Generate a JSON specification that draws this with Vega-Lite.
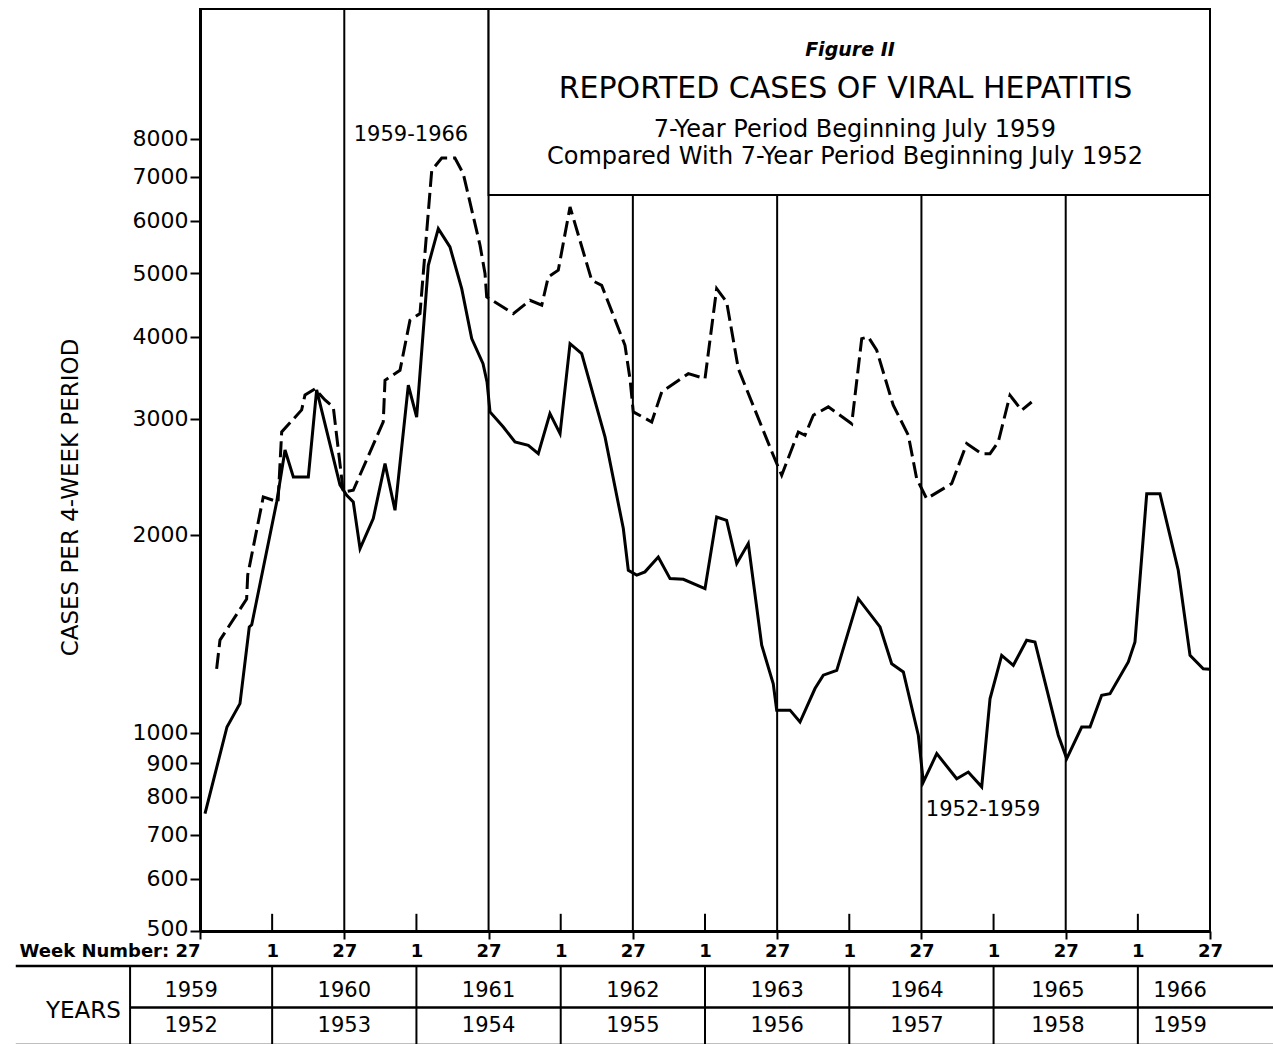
{
  "$schema": "https://vega.github.io/schema/vega-lite/v6.json",
  "background": "white",
  "padding": {"left": 14, "top": 7, "right": 0, "bottom": 0},
  "autosize": {"type": "pad"},
  "spacing": 3,
  "config": {"font": "DejaVu Sans", "view": {"stroke": null}},
  "datasets": {
    "solid": [
      {"t":0.45,"v":754},{"t":2.43,"v":1021},{"t":3.6,"v":1108},{"t":4.44,"v":1449},{"t":4.66,"v":1460},{"t":6.91,"v":2244},{"t":7.66,"v":2692},{"t":8.41,"v":2449},{"t":9.76,"v":2449},{"t":10.51,"v":3321},{"t":12.61,"v":2382},{"t":13.22,"v":2297},{"t":13.81,"v":2244},{"t":14.42,"v":1906},{"t":15.61,"v":2117},{"t":16.67,"v":2566},{"t":17.57,"v":2180},{"t":18.77,"v":3376},{"t":19.52,"v":3020},{"t":20.57,"v":5137},{"t":21.47,"v":5840},{"t":22.52,"v":5478},{"t":23.58,"v":4733},{"t":24.48,"v":3974},{"t":25.5,"v":3640},{"t":25.86,"v":3415},{"t":26.13,"v":3075},{"t":27.33,"v":2917},{"t":28.38,"v":2768},{"t":29.58,"v":2736},{"t":30.48,"v":2657},{"t":31.53,"v":3057},{"t":32.44,"v":2850},{"t":33.34,"v":3905},{"t":34.39,"v":3772},{"t":36.49,"v":2818},{"t":38.14,"v":2045},{"t":38.59,"v":1767},{"t":39.35,"v":1737},{"t":40.09,"v":1757},{"t":41.29,"v":1851},{"t":42.35,"v":1716},{"t":43.55,"v":1712},{"t":45.5,"v":1657},{"t":46.55,"v":2129},{"t":47.45,"v":2104},{"t":48.36,"v":1809},{"t":49.4,"v":1940},{"t":50.61,"v":1359},{"t":51.65,"v":1188},{"t":51.96,"v":1083},{"t":53.16,"v":1083},{"t":54.06,"v":1039},{"t":55.41,"v":1168},{"t":56.16,"v":1224},{"t":57.37,"v":1245},{"t":59.31,"v":1600},{"t":61.27,"v":1449},{"t":62.32,"v":1274},{"t":63.37,"v":1238},{"t":64.72,"v":992},{"t":65.17,"v":842},{"t":66.38,"v":930},{"t":68.18,"v":852},{"t":69.22,"v":872},{"t":70.43,"v":828},{"t":71.18,"v":1127},{"t":72.23,"v":1312},{"t":73.28,"v":1267},{"t":74.48,"v":1383},{"t":75.23,"v":1375},{"t":77.33,"v":992},{"t":78.09,"v":914},{"t":79.44,"v":1021},{"t":80.19,"v":1021},{"t":81.24,"v":1141},{"t":81.99,"v":1147},{"t":83.64,"v":1282},{"t":84.24,"v":1375},{"t":85.3,"v":2310},{"t":86.49,"v":2310},{"t":88.14,"v":1767},{"t":89.2,"v":1312},{"t":90.39,"v":1252},{"t":91,"v":1250}
    ],
    "dashed": [
      {"t":1.5,"v":1251},{"t":1.8,"v":1384},{"t":4.2,"v":1598},{"t":4.3,"v":1738},{"t":5.7,"v":2284},{"t":7.03,"v":2244},{"t":7.36,"v":2867},{"t":9.16,"v":3097},{"t":9.46,"v":3264},{"t":10.36,"v":3334},{"t":11.26,"v":3207},{"t":12.01,"v":3126},{"t":12.91,"v":2324},{"t":13.81,"v":2338},{"t":16.51,"v":2969},{"t":16.67,"v":3436},{"t":18.02,"v":3558},{"t":18.92,"v":4239},{"t":19.82,"v":4338},{"t":20.88,"v":7164},{"t":21.78,"v":7478},{"t":22.97,"v":7478},{"t":23.72,"v":7079},{"t":25.23,"v":5510},{"t":25.68,"v":4990},{"t":25.83,"v":4598},{"t":28.23,"v":4338},{"t":29.73,"v":4545},{"t":30.79,"v":4467},{"t":31.38,"v":4932},{"t":32.28,"v":5050},{"t":33.34,"v":6301},{"t":35.29,"v":4875},{"t":36.19,"v":4789},{"t":38.29,"v":3883},{"t":38.74,"v":3455},{"t":39.04,"v":3075},{"t":40.7,"v":2969},{"t":41.6,"v":3298},{"t":44.0,"v":3516},{"t":45.5,"v":3455},{"t":46.55,"v":4733},{"t":47.45,"v":4519},{"t":48.5,"v":3578},{"t":51.65,"v":2642},{"t":52.41,"v":2464},{"t":53.91,"v":2867},{"t":54.51,"v":2834},{"t":55.26,"v":3040},{"t":56.61,"v":3130},{"t":58.72,"v":2951},{"t":59.62,"v":3974},{"t":60.21,"v":3998},{"t":60.97,"v":3816},{"t":62.46,"v":3148},{"t":63.82,"v":2834},{"t":64.57,"v":2435},{"t":65.47,"v":2270},{"t":67.73,"v":2393},{"t":69.08,"v":2753},{"t":70.43,"v":2657},{"t":71.18,"v":2657},{"t":71.92,"v":2768},{"t":72.98,"v":3260},{"t":74.03,"v":3093},{"t":74.93,"v":3184}
    ],
    "yearLines": [{"t":13},{"t":26},{"t":39},{"t":52},{"t":65},{"t":78}],
    "halfYears": [{"t":6.5},{"t":19.5},{"t":32.5},{"t":45.5},{"t":58.5},{"t":71.5},{"t":84.5}],
    "tableH": [
      {"t":-16.6,"t2":96.7,"row":2},
      {"t":-6.3,"t2":96.7,"row":0.95},
      {"t":-16.6,"t2":96.7,"row":0}
    ],
    "tableV": [{"t":-6.3},{"t":6.5},{"t":19.5},{"t":32.5},{"t":45.5},{"t":58.5},{"t":71.5},{"t":84.5}],
    "years": [
      {"t":-0.8,"row":1.37,"label":"1959"},{"t":13,"row":1.37,"label":"1960"},{"t":26,"row":1.37,"label":"1961"},{"t":39,"row":1.37,"label":"1962"},{"t":52,"row":1.37,"label":"1963"},{"t":64.6,"row":1.37,"label":"1964"},{"t":77.3,"row":1.37,"label":"1965"},{"t":88.3,"row":1.37,"label":"1966"},
      {"t":-0.8,"row":0.48,"label":"1952"},{"t":13,"row":0.48,"label":"1953"},{"t":26,"row":0.48,"label":"1954"},{"t":39,"row":0.48,"label":"1955"},{"t":52,"row":0.48,"label":"1956"},{"t":64.6,"row":0.48,"label":"1957"},{"t":77.3,"row":0.48,"label":"1958"},{"t":88.3,"row":0.48,"label":"1959"}
    ]
  },
  "vconcat": [
    {
      "width": 1010,
      "height": 922,
      "view": {"stroke": "black", "strokeWidth": 2},
      "layer": [
        {
          "data": {"name": "solid"},
          "mark": {"type": "line", "color": "black", "strokeWidth": 3, "strokeJoin": "miter"},
          "encoding": {
            "x": {
              "field": "t", "type": "quantitative",
              "scale": {"domain": [0, 91], "nice": false, "zero": false},
              "axis": {
                "title": null,
                "values": [0, 6.5, 13, 19.5, 26, 32.5, 39, 45.5, 52, 58.5, 65, 71.5, 78, 84.5, 91],
                "labelExpr": "datum.value == 0 ? 'Week Number: 27' : (datum.value % 13 == 0 ? '27' : '1')",
                "labelAlign": {"condition": {"test": "datum.value == 0", "value": "right"}, "value": "center"},
                "labelFontSize": 18,
                "labelFontWeight": "bold",
                "labelColor": "black",
                "labelPadding": 3,
                "labelLimit": 0,
                "labelOverlap": false,
                "labelFlush": false,
                "tickSize": 8,
                "tickWidth": 2,
                "tickColor": "black",
                "tickOpacity": {"condition": {"test": "datum.value % 13 == 0", "value": 1}, "value": 0},
                "domainColor": "black",
                "domainWidth": 3,
                "grid": false
              }
            },
            "y": {
              "field": "v", "type": "quantitative",
              "scale": {"type": "log", "domain": [500, 12596], "nice": false},
              "axis": {
                "title": "CASES PER 4-WEEK PERIOD",
                "titleFontSize": 23,
                "titleFontWeight": "normal",
                "titleColor": "black",
                "titlePadding": 50,
                "titleY": 488,
                "values": [500, 600, 700, 800, 900, 1000, 2000, 3000, 4000, 5000, 6000, 7000, 8000],
                "format": "d",
                "labelFontSize": 22,
                "labelColor": "black",
                "labelPadding": 2,
                "labelOffset": {"condition": {"test": "datum.value == 500", "value": -3}, "value": 0},
                "tickSize": 10,
                "tickWidth": 2,
                "tickColor": "black",
                "domainColor": "black",
                "domainWidth": 3,
                "grid": false
              }
            }
          }
        },
        {
          "data": {"name": "dashed"},
          "mark": {"type": "line", "color": "black", "strokeWidth": 3, "strokeDash": [16, 6]},
          "encoding": {
            "x": {"field": "t", "type": "quantitative"},
            "y": {"field": "v", "type": "quantitative"}
          }
        },
        {
          "data": {"name": "yearLines"},
          "mark": {"type": "rule", "color": "black", "strokeWidth": 2},
          "encoding": {
            "x": {"field": "t", "type": "quantitative"},
            "y": {"datum": 500, "type": "quantitative"},
            "y2": {"datum": 12596}
          }
        },
        {
          "data": {"name": "halfYears"},
          "mark": {"type": "rule", "color": "black", "strokeWidth": 2},
          "encoding": {
            "x": {"field": "t", "type": "quantitative"},
            "y": {"datum": 500, "type": "quantitative"},
            "y2": {"datum": 531}
          }
        },
        {
          "data": {"values": [{}]},
          "mark": {"type": "rect", "fill": "white", "stroke": "black", "strokeWidth": 2},
          "encoding": {
            "x": {"datum": 26, "type": "quantitative"},
            "x2": {"datum": 91},
            "y": {"datum": 6571, "type": "quantitative"},
            "y2": {"datum": 12596}
          }
        },
        {
          "data": {"values": [{}]},
          "mark": {"type": "text", "text": "Figure II", "fontSize": 19, "fontStyle": "italic", "fontWeight": "bold", "color": "black", "baseline": "middle"},
          "encoding": {"x": {"datum": 58.56, "type": "quantitative"}, "y": {"datum": 10914, "type": "quantitative"}}
        },
        {
          "data": {"values": [{}]},
          "mark": {"type": "text", "text": "REPORTED CASES OF VIRAL HEPATITIS", "fontSize": 30, "color": "black", "baseline": "middle"},
          "encoding": {"x": {"datum": 58.16, "type": "quantitative"}, "y": {"datum": 9521, "type": "quantitative"}}
        },
        {
          "data": {"values": [{}]},
          "mark": {"type": "text", "text": "7-Year Period Beginning July 1959", "fontSize": 24, "color": "black", "baseline": "middle"},
          "encoding": {"x": {"datum": 59.0, "type": "quantitative"}, "y": {"datum": 8251, "type": "quantitative"}}
        },
        {
          "data": {"values": [{}]},
          "mark": {"type": "text", "text": "Compared With 7-Year Period Beginning July 1952", "fontSize": 24, "color": "black", "baseline": "middle"},
          "encoding": {"x": {"datum": 58.11, "type": "quantitative"}, "y": {"datum": 7506, "type": "quantitative"}}
        },
        {
          "data": {"values": [{}]},
          "mark": {"type": "text", "text": "1959-1966", "fontSize": 21, "color": "black", "baseline": "middle"},
          "encoding": {"x": {"datum": 19.01, "type": "quantitative"}, "y": {"datum": 8108, "type": "quantitative"}}
        },
        {
          "data": {"values": [{}]},
          "mark": {"type": "text", "text": "1952-1959", "fontSize": 21, "color": "black", "baseline": "middle"},
          "encoding": {"x": {"datum": 70.55, "type": "quantitative"}, "y": {"datum": 764, "type": "quantitative"}}
        }
      ]
    },
    {
      "width": 1010,
      "height": 79,
      "view": {"stroke": null},
      "layer": [
        {
          "data": {"name": "tableH"},
          "mark": {"type": "rule", "color": "black", "strokeWidth": 2.5},
          "encoding": {
            "x": {"field": "t", "type": "quantitative", "scale": {"domain": [0, 91], "nice": false, "zero": false}, "axis": null},
            "x2": {"field": "t2"},
            "y": {"field": "row", "type": "quantitative", "scale": {"domain": [0, 2], "nice": false, "zero": false}, "axis": null}
          }
        },
        {
          "data": {"name": "tableV"},
          "mark": {"type": "rule", "color": "black", "strokeWidth": 2},
          "encoding": {
            "x": {"field": "t", "type": "quantitative", "scale": {"domain": [0, 91], "nice": false, "zero": false}, "axis": null},
            "y": {"datum": 0, "type": "quantitative", "scale": {"domain": [0, 2], "nice": false, "zero": false}, "axis": null},
            "y2": {"datum": 2}
          }
        },
        {
          "data": {"name": "years"},
          "mark": {"type": "text", "fontSize": 21, "color": "black", "baseline": "middle"},
          "encoding": {
            "x": {"field": "t", "type": "quantitative", "scale": {"domain": [0, 91], "nice": false, "zero": false}, "axis": null},
            "y": {"field": "row", "type": "quantitative", "scale": {"domain": [0, 2], "nice": false, "zero": false}, "axis": null},
            "text": {"field": "label"}
          }
        },
        {
          "data": {"values": [{}]},
          "mark": {"type": "text", "text": "YEARS", "fontSize": 23, "color": "black", "baseline": "middle"},
          "encoding": {
            "x": {"datum": -10.5, "type": "quantitative", "scale": {"domain": [0, 91], "nice": false, "zero": false}, "axis": null},
            "y": {"datum": 0.86, "type": "quantitative", "scale": {"domain": [0, 2], "nice": false, "zero": false}, "axis": null}
          }
        }
      ]
    }
  ]
}
